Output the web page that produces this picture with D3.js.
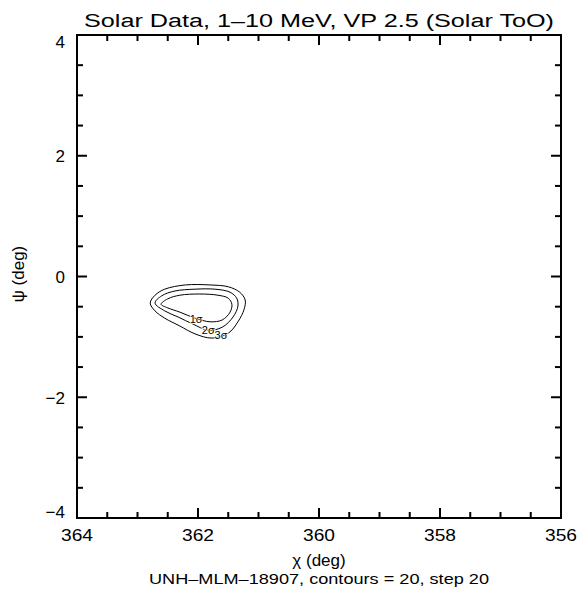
<!DOCTYPE html>
<html><head><meta charset="utf-8">
<script src="https://cdn.jsdelivr.net/npm/d3@7"></script>
<style>body{margin:0;background:#fff}svg{display:block}text{font-family:"Liberation Sans",Arial,sans-serif;fill:#000}</style>
</head><body><svg id="c" width="583" height="590"></svg>
<script>
const title = "Solar Data, 1\u201310 MeV, VP 2.5 (Solar ToO)";
const subtitle = "UNH\u2013MLM\u201318907, contours = 20, step 20";
const xDomain = [364, 356];
const yDomain = [-4, 4];
const xTicks = [364, 362, 360, 358, 356];
const yTicks = [4, 2, 0, -2, -4];
const sigmaLabels = ["1\u03c3", "2\u03c3", "3\u03c3"];
const labelX = [362.03, 361.83, 361.62];
const labelY = [-0.70, -0.88, -0.97];
// contour levels (inner = 1σ, middle = 2σ, outer = 3σ)
const c1x = [362.61,362.50,362.30,361.97,361.67,361.50,361.44,361.47,361.60,361.80,362.05,362.30,362.50];
const c1y = [-0.46,-0.37,-0.31,-0.29,-0.31,-0.36,-0.46,-0.59,-0.72,-0.75,-0.69,-0.59,-0.52];
const c2x = [362.71,362.60,362.38,362.05,361.72,361.47,361.36,361.34,361.42,361.60,361.83,362.08,362.33,362.55];
const c2y = [-0.44,-0.32,-0.24,-0.21,-0.21,-0.26,-0.36,-0.49,-0.67,-0.84,-0.89,-0.79,-0.67,-0.57];
const c3x = [362.79,362.71,362.55,362.21,361.80,361.50,361.31,361.22,361.24,361.34,361.50,361.77,362.05,362.30,362.55,362.71];
const c3y = [-0.44,-0.31,-0.21,-0.14,-0.14,-0.17,-0.26,-0.39,-0.55,-0.75,-0.94,-1.02,-0.95,-0.82,-0.69,-0.57];

const svg = d3.select("#c");
const L = 77, R = 561, T = 35, B = 518;
const x = d3.scaleLinear().domain(xDomain).range([L, R]);
const y = d3.scaleLinear().domain(yDomain).range([B, T]);

// ticks
const xMinor = d3.range(356, 364.001, 0.5);
const yMinor = d3.range(-4, 4.001, 0.5);
const g = svg.append("g").attr("stroke", "#000").attr("stroke-width", 2);
xMinor.forEach(v => {
  const major = Math.abs(v % 2) < 1e-6;
  const len = major ? 10 : 6;
  g.append("line").attr("x1", x(v)).attr("x2", x(v)).attr("y1", B).attr("y2", B - len);
  g.append("line").attr("x1", x(v)).attr("x2", x(v)).attr("y1", T).attr("y2", T + len);
});
yMinor.forEach(v => {
  const major = Math.abs(v % 2) < 1e-6;
  const len = major ? 10 : 6;
  g.append("line").attr("y1", y(v)).attr("y2", y(v)).attr("x1", L).attr("x2", L + len);
  g.append("line").attr("y1", y(v)).attr("y2", y(v)).attr("x1", R).attr("x2", R - len);
});
svg.append("rect").attr("x", L).attr("y", T).attr("width", R - L).attr("height", B - T)
  .attr("fill", "none").attr("stroke", "#000").attr("stroke-width", 2);

// tick labels
svg.append("g").selectAll("text").data(xTicks).join("text")
  .attr("x", d => x(d)).attr("y", 541).attr("text-anchor", "middle")
  .attr("font-size", 17).attr("textLength", 32).attr("lengthAdjust", "spacingAndGlyphs")
  .text(d => d);
svg.append("g").selectAll("text").data(yTicks).join("text")
  .attr("x", 65).attr("y", d => d === 4 ? y(d) + 13 : d === -4 ? y(d) : y(d) + 6.5)
  .attr("text-anchor", "end").attr("font-size", 17)
  .text(d => d < 0 ? "\u2212" + Math.abs(d) : d);

// titles
svg.append("text").attr("x", 319).attr("y", 27).attr("text-anchor", "middle")
  .attr("font-size", 18).attr("textLength", 470).attr("lengthAdjust", "spacingAndGlyphs").text(title);
svg.append("text").attr("x", 319).attr("y", 566).attr("text-anchor", "middle")
  .attr("font-size", 17).text("\u03c7 (deg)");
svg.append("text").attr("x", 319).attr("y", 584).attr("text-anchor", "middle")
  .attr("font-size", 15).attr("textLength", 340).attr("lengthAdjust", "spacingAndGlyphs").text(subtitle);
svg.append("text").attr("transform", "translate(24,274) rotate(-90)").attr("text-anchor", "middle")
  .attr("font-size", 17).text("\u03c8 (deg)");

// contours
const line = d3.line().x(d => x(d[0])).y(d => y(d[1])).curve(d3.curveCatmullRomClosed.alpha(0.5));
[[c1x, c1y], [c2x, c2y], [c3x, c3y]].forEach(([xs, ys]) => {
  svg.append("path").attr("d", line(xs.map((v, i) => [v, ys[i]])))
    .attr("fill", "none").attr("stroke", "#000").attr("stroke-width", 1);
});
svg.append("g").selectAll("text").data(sigmaLabels).join("text")
  .attr("x", (d, i) => x(labelX[i])).attr("y", (d, i) => y(labelY[i]) + 4)
  .attr("text-anchor", "middle").attr("font-size", 11)
  .attr("stroke", "#fff").attr("stroke-width", 1.5).attr("paint-order", "stroke")
  .text(d => d);
</script></body></html>
